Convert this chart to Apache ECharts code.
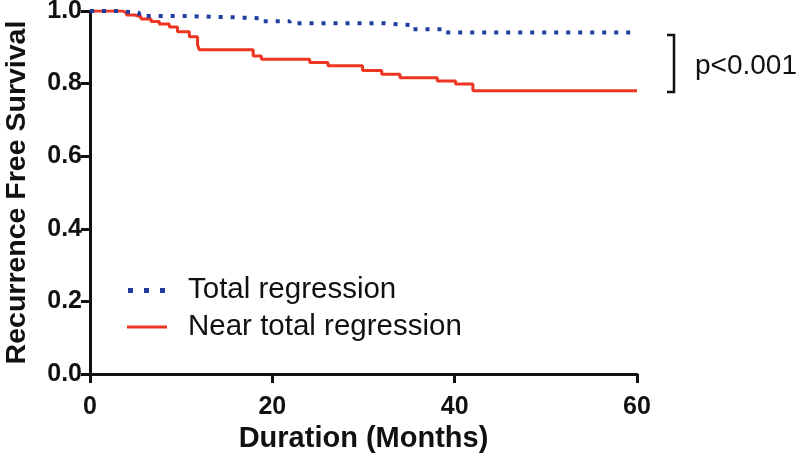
<!DOCTYPE html>
<html>
<head>
<meta charset="utf-8">
<script src="https://cdn.jsdelivr.net/npm/echarts@6/dist/echarts.min.js"></script>
<style>html,body{margin:0;padding:0;background:#fff}#c{width:800px;height:461px}</style>
</head>
<body>
<div id="c"></div>
<script>
// Kaplan-Meier step points: [month, survival]
const seriesNames = ['Total regression', 'Near total regression'];
const totalMonths = [0, 3.0, 5.4, 10.4, 15.3, 18.6, 21.9, 32.4, 35.3, 38.6, 60];
const totalSurv   = [1.0, 0.995, 0.986, 0.983, 0.980, 0.972, 0.966, 0.961, 0.950, 0.941, 0.941];
const nearMonths = [0, 3.6, 4.0, 4.9, 5.6, 6.7, 7.6, 8.7, 9.6, 10.9, 11.8, 12.0, 17.9, 18.8, 24.1, 26.1, 29.9, 32.0, 34.0, 38.1, 40.1, 42.0, 60];
const nearSurv   = [1.0, 0.995, 0.989, 0.984, 0.978, 0.971, 0.964, 0.956, 0.943, 0.929, 0.906, 0.893, 0.876, 0.867, 0.858, 0.849, 0.836, 0.826, 0.816, 0.807, 0.799, 0.780, 0.780];
const xTicks = [0, 20, 40, 60];
const yTicks = [0.0, 0.2, 0.4, 0.6, 0.8, 1.0];
const pText = 'p<0.001';

const zip = (a, b) => a.map((v, i) => [v, b[i]]);
const blue = '#1f3ea0', red = '#ee3522';
const lblFont = 'Liberation Sans';
const chart = echarts.init(document.getElementById('c'));
chart.setOption({
  animation: false,
  backgroundColor: '#fff',
  grid: {left: 90, right: 163, top: 11, bottom: 87, containLabel: false, outerBoundsMode: 'none'},
  xAxis: {
    type: 'value', min: xTicks[0], max: xTicks[xTicks.length - 1], interval: 20,
    name: 'Duration (Months)', nameLocation: 'middle', nameGap: 49,
    nameTextStyle: {fontFamily: lblFont, fontWeight: 'bold', fontSize: 29, color: '#111'},
    axisLine: {lineStyle: {color: '#111', width: 3}},
    axisTick: {length: 9, lineStyle: {color: '#111', width: 3}},
    axisLabel: {fontFamily: lblFont, fontWeight: 'bold', fontSize: 25, color: '#111', margin: 21},
    splitLine: {show: false}
  },
  yAxis: {
    type: 'value', min: yTicks[0], max: yTicks[yTicks.length - 1], interval: 0.2,
    name: 'Recurrence Free Survival', nameLocation: 'middle', nameGap: 58,
    nameTextStyle: {fontFamily: lblFont, fontWeight: 'bold', fontSize: 28.5, color: '#111'},
    axisLine: {show: true, lineStyle: {color: '#111', width: 3}},
    axisTick: {show: true, length: 9, lineStyle: {color: '#111', width: 3}},
    axisLabel: {fontFamily: lblFont, fontWeight: 'bold', fontSize: 25, color: '#111', margin: 8,
      formatter: v => v.toFixed(1)},
    splitLine: {show: false}
  },
  series: [
    {
      name: seriesNames[0], type: 'line', step: 'end', showSymbol: false, symbol: 'none',
      data: zip(totalMonths, totalSurv),
      lineStyle: {color: blue, width: 4, type: [4, 8], cap: 'butt'},
      itemStyle: {color: blue}, z: 3
    },
    {
      name: seriesNames[1], type: 'line', step: 'end', showSymbol: false, symbol: 'none',
      data: zip(nearMonths, nearSurv),
      lineStyle: {color: red, width: 3},
      itemStyle: {color: red}, z: 2
    }
  ],
  graphic: [
    // legend
    {type: 'rect', shape: {x: 128, y: 288, width: 5, height: 5}, style: {fill: blue}},
    {type: 'rect', shape: {x: 144, y: 288, width: 5, height: 5}, style: {fill: blue}},
    {type: 'rect', shape: {x: 160, y: 288, width: 5, height: 5}, style: {fill: blue}},
    {type: 'text', x: 188, y: 290, style: {text: seriesNames[0], fontFamily: lblFont, fontSize: 29.5, fill: '#111', verticalAlign: 'middle'}},
    {type: 'line', shape: {x1: 127, y1: 327, x2: 167, y2: 327}, style: {stroke: red, lineWidth: 3}},
    {type: 'text', x: 188, y: 327, style: {text: seriesNames[1], fontFamily: lblFont, fontSize: 29.5, fill: '#111', verticalAlign: 'middle'}},
    // p-value bracket
    {type: 'polyline', shape: {points: [[667, 35], [674, 35], [674, 92], [667, 92]]},
      style: {stroke: '#111', lineWidth: 2.5, fill: null}},
    {type: 'text', x: 695, y: 66, style: {text: pText, fontFamily: lblFont, fontSize: 28, fill: '#111', verticalAlign: 'middle'}}
  ]
});
</script>
</body>
</html>
